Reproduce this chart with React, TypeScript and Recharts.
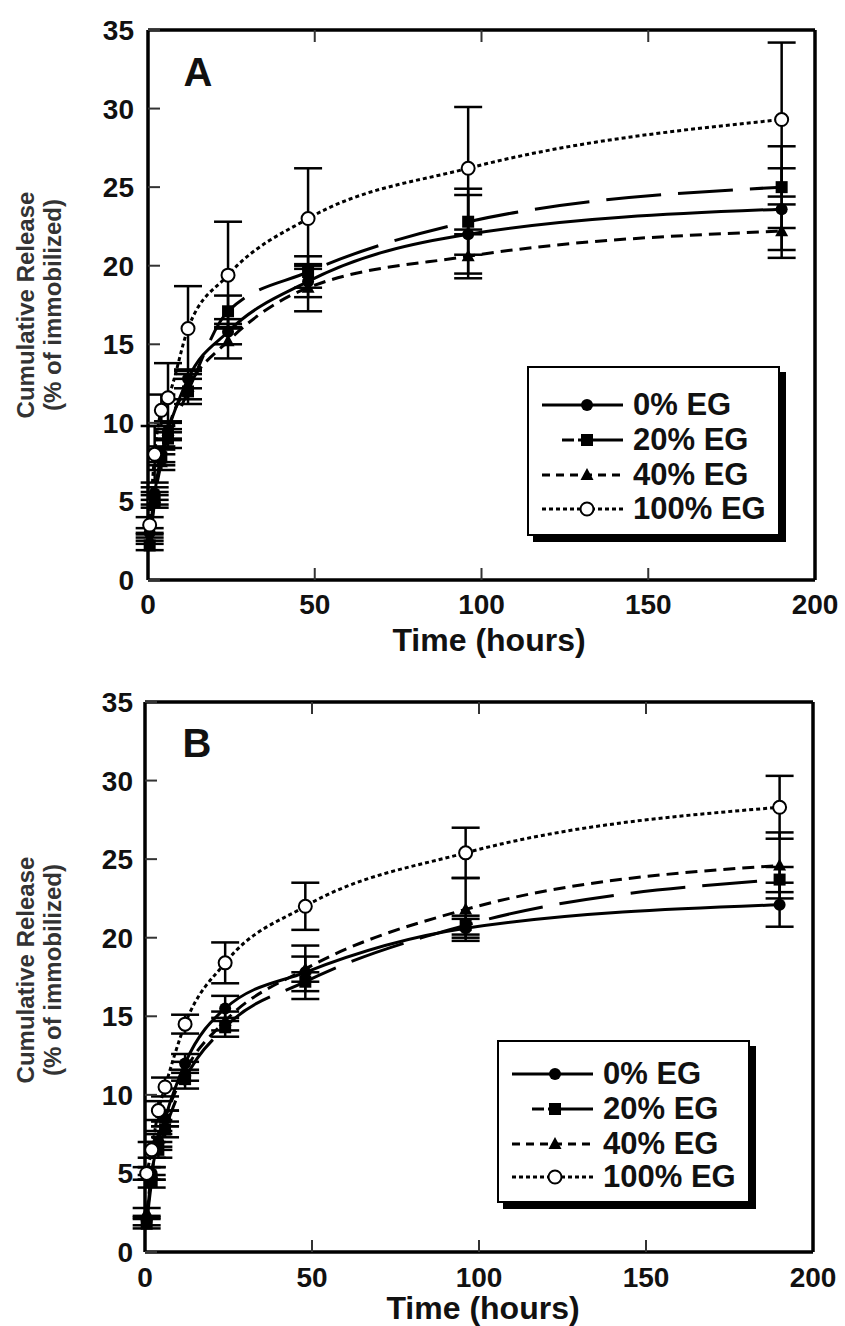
import React from 'react';
import { LineChart, Line, XAxis, YAxis, ErrorBar } from 'recharts';

// ---------- data ----------
const times = [0.5, 2, 4, 6, 12, 24, 48, 96, 190];
const seriesNames = ['0% EG', '20% EG', '40% EG', '100% EG'];
const xTicks = [0, 50, 100, 150, 200];
const yTicks = [0, 5, 10, 15, 20, 25, 30, 35];
const xTitle = 'Time (hours)';
const yTitle1 = 'Cumulative Release';
const yTitle2 = '(% of immobilized)';

// Panel A
const a0 = [3.0, 5.5, 8.0, 9.5, 12.8, 15.8, 19.0, 22.0, 23.6];
const a0Err = [0.3, 0.4, 0.5, 0.5, 0.6, 0.8, 1.0, 2.5, 2.6];
const a20 = [2.2, 5.0, 7.8, 9.0, 12.0, 17.1, 19.6, 22.8, 25.0];
const a20Err = [0.3, 0.4, 0.5, 0.6, 0.8, 1.0, 1.0, 2.1, 2.6];
const a40 = [2.6, 5.2, 7.5, 9.5, 12.3, 15.2, 18.6, 20.6, 22.2];
const a40Err = [0.3, 0.4, 0.5, 0.6, 0.8, 1.1, 1.5, 1.4, 1.7];
const a100 = [3.5, 8.0, 10.8, 11.6, 16.0, 19.4, 23.0, 26.2, 29.3];
const a100Err = [0.5, 1.8, 1.0, 2.2, 2.7, 3.4, 3.2, 3.9, 4.9];

// Panel B
const b0 = [2.0, 5.0, 7.0, 8.5, 12.0, 15.5, 17.8, 20.6, 22.1];
const b0Err = [0.3, 0.4, 0.5, 0.5, 0.6, 0.8, 1.7, 0.6, 1.4];
const b20 = [1.8, 4.5, 6.5, 7.8, 11.0, 14.3, 17.2, 20.8, 23.7];
const b20Err = [0.3, 0.4, 0.5, 0.5, 0.6, 0.6, 0.6, 0.6, 0.8];
const b40 = [2.5, 5.0, 7.2, 8.5, 11.5, 14.7, 18.0, 21.8, 24.6];
const b40Err = [0.3, 0.4, 0.5, 0.5, 0.6, 0.6, 0.8, 2.0, 2.1];
const b100 = [5.0, 6.5, 9.0, 10.5, 14.5, 18.4, 22.0, 25.4, 28.3];
const b100Err = [0.4, 0.5, 0.6, 0.6, 0.6, 1.3, 1.5, 1.6, 2.0];

// ---------- styles ----------
const FONT = '"Liberation Sans", Arial, Helvetica, sans-serif';
const lineDash = [undefined, '55 17', '12 7', '4 3'];
const legendDash = [undefined, '12 4 200', '8 6', '4 3'];
const markerKinds = ['circle', 'square', 'triangle', 'open'];
const keys = ['0', '20', '40', '100'];

function buildData(vals: number[][], errs: number[][]) {
  return times.map((t, i) => {
    const row: any = { t };
    keys.forEach((k, s) => {
      row['v' + k] = vals[s][i];
      row['e' + k] = errs[s][i];
    });
    return row;
  });
}

const dataA = buildData([a0, a20, a40, a100], [a0Err, a20Err, a40Err, a100Err]);
const dataB = buildData([b0, b20, b40, b100], [b0Err, b20Err, b40Err, b100Err]);

function Marker({ kind, cx, cy }: { kind: string; cx?: number; cy?: number }) {
  if (cx == null || cy == null || isNaN(cx) || isNaN(cy)) return null;
  if (kind === 'circle') return <circle cx={cx} cy={cy} r={6} fill="#000" />;
  if (kind === 'square') return <rect x={cx - 6} y={cy - 6} width={12} height={12} fill="#000" />;
  if (kind === 'triangle')
    return <polygon points={`${cx},${cy - 7} ${cx + 6.5},${cy + 5} ${cx - 6.5},${cy + 5}`} fill="#000" />;
  return <circle cx={cx} cy={cy} r={6.5} fill="#fff" stroke="#000" strokeWidth={2} />;
}

const tickStyle = { fontSize: 28, fontWeight: 700, fill: '#111', fontFamily: FONT };
const axisLineStyle = { stroke: '#000', strokeWidth: 3.5 };
const tickLineStyle = { stroke: '#333', strokeWidth: 2 };

type PanelProps = {
  data: any[];
  top: number;
  topH: number;
  bottomH: number;
  leftW: number;
  rightW: number;
  xTickMargin: number;
  yTickMargin: number;
};

function Panel({ data, top, topH, bottomH, leftW, rightW, xTickMargin, yTickMargin }: PanelProps) {
  return (
    <div style={{ position: 'absolute', left: 0, top, width: 845, height: 663 }}>
      <LineChart width={845} height={663} data={data} margin={{ top: 0, right: 0, bottom: 0, left: 0 }}>
        <XAxis
          xAxisId="b"
          dataKey="t"
          type="number"
          domain={[0, 200]}
          ticks={xTicks}
          interval={0}
          orientation="bottom"
          height={bottomH}
          tickSize={-12}
          tickMargin={xTickMargin}
          axisLine={axisLineStyle}
          tickLine={tickLineStyle}
          tick={tickStyle}
        />
        <XAxis
          xAxisId="t"
          dataKey="t"
          type="number"
          domain={[0, 200]}
          ticks={xTicks}
          interval={0}
          orientation="top"
          height={topH}
          tickSize={-12}
          axisLine={axisLineStyle}
          tickLine={tickLineStyle}
          tickFormatter={() => ''}
        />
        <YAxis
          yAxisId="l"
          type="number"
          domain={[0, 35]}
          ticks={yTicks}
          interval={0}
          width={leftW}
          tickSize={-12}
          tickMargin={yTickMargin}
          axisLine={axisLineStyle}
          tickLine={tickLineStyle}
          tick={tickStyle}
        />
        <YAxis
          yAxisId="r"
          orientation="right"
          type="number"
          domain={[0, 35]}
          ticks={yTicks}
          interval={0}
          width={rightW}
          tickSize={-12}
          axisLine={axisLineStyle}
          tickLine={tickLineStyle}
          tickFormatter={() => ''}
        />
        {keys.map((k, s) => (
          <Line
            key={k}
            xAxisId="b"
            yAxisId="l"
            dataKey={'v' + k}
            name={seriesNames[s]}
            type="monotone"
            stroke="#000"
            strokeWidth={3}
            strokeDasharray={lineDash[s]}
            isAnimationActive={false}
            dot={(p: any) => <Marker key={`m-${k}-${p.index}`} kind={markerKinds[s]} cx={p.cx} cy={p.cy} />}
            activeDot={false}
          >
            <ErrorBar dataKey={'e' + k} direction="y" width={14} strokeWidth={2.5} stroke="#000" />
          </Line>
        ))}
      </LineChart>
    </div>
  );
}

function CenterText({ x, y, text, size, rotate, color = '#111' }: any) {
  return (
    <div
      style={{
        position: 'absolute',
        left: x,
        top: y,
        transform: `translate(-50%, -50%)${rotate ? ' rotate(-90deg)' : ''}`,
        whiteSpace: 'nowrap',
        fontFamily: FONT,
        fontWeight: 700,
        fontSize: size,
        lineHeight: 1,
        color,
      }}
    >
      {text}
    </div>
  );
}

function LegendBox({ left, top, width, height, rows, markerX }: any) {
  return (
    <div
      style={{
        position: 'absolute',
        left,
        top,
        width,
        height,
        boxSizing: 'border-box',
        border: '2.5px solid #000',
        background: '#fff',
        boxShadow: '6px 6px 0 #000',
      }}
    >
      {seriesNames.map((name, s) => (
        <div key={name} style={{ position: 'absolute', left: 0, top: rows[s] - 17, height: 34, width: width }}>
          <svg width={100} height={34} style={{ position: 'absolute', left: 10, top: 0 }}>
            <line
              x1={s === 1 ? 23 : 3}
              x2={84}
              y1={17}
              y2={17}
              stroke="#000"
              strokeWidth={3}
              strokeDasharray={legendDash[s]}
            />
            <Marker kind={markerKinds[s]} cx={markerX - 10} cy={17} />
          </svg>
          <div
            style={{
              position: 'absolute',
              left: 104,
              top: 0,
              height: 34,
              lineHeight: '34px',
              fontFamily: FONT,
              fontWeight: 700,
              fontSize: 31,
              color: '#111',
              whiteSpace: 'nowrap',
            }}
          >
            {name}
          </div>
        </div>
      ))}
    </div>
  );
}

export default function App() {
  return (
    <div style={{ position: 'absolute', left: 0, top: 0, width: 845, height: 1326, background: '#fff', overflow: 'hidden' }}>
      <Panel data={dataA} top={0} topH={30} bottomH={83} leftW={148} rightW={30} xTickMargin={26} yTickMargin={26} />
      <Panel data={dataB} top={663} topH={39} bottomH={74} leftW={145} rightW={32} xTickMargin={27} yTickMargin={24} />

      {/* panel A texts */}
      <CenterText x={198} y={72} text="A" size={40} />
      <CenterText x={489} y={640} text={xTitle} size={32} />
      <CenterText x={26} y={305} text={yTitle1} size={24} rotate color="#333" />
      <CenterText x={53} y={305} text={yTitle2} size={24} rotate color="#333" />
      <LegendBox left={527} top={366} width={253} height={170} rows={[37, 72, 107, 141]} markerX={58} />

      {/* panel B texts */}
      <CenterText x={197} y={743} text="B" size={40} />
      <CenterText x={483} y={1308} text={xTitle} size={32} />
      <CenterText x={26} y={970} text={yTitle1} size={24} rotate color="#333" />
      <CenterText x={53} y={970} text={yTitle2} size={24} rotate color="#333" />
      <LegendBox left={497} top={1040} width={253} height={163} rows={[32, 67, 102, 135]} markerX={56} />
    </div>
  );
}
